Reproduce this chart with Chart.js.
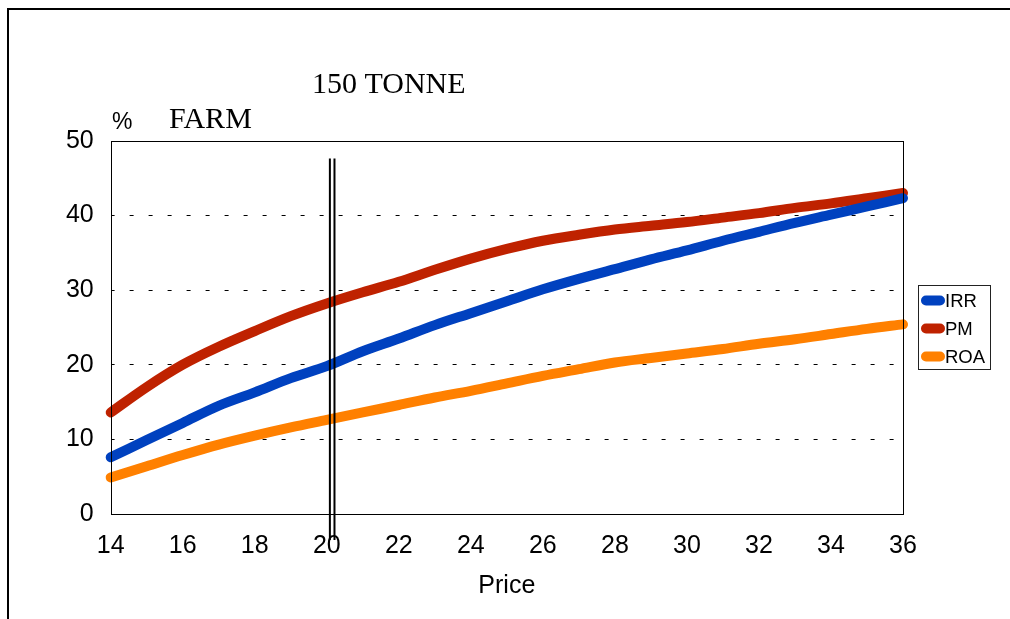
<!DOCTYPE html>
<html>
<head>
<meta charset="utf-8">
<script src="https://cdn.jsdelivr.net/npm/chart.js@4/dist/chart.umd.min.js"></script>
<style>
  html, body { margin: 0; padding: 0; background: #fff; }
  #wrap { width: 1010px; height: 619px; position: relative; }
</style>
</head>
<body>
<div id="wrap"><canvas id="c" width="1010" height="619"></canvas></div>
<script>
// Price (x) and the three return measures (%)
const prices = [14, 15, 16, 17, 18, 19, 20, 21, 22, 23, 24, 25, 26, 27, 28, 29, 30, 31, 32, 33, 34, 35, 36];
const irr = [7.6, 9.9, 12.2, 14.5, 16.3, 18.2, 19.8, 21.8, 23.5, 25.3, 26.9, 28.5, 30.1, 31.5, 32.8, 34.1, 35.3, 36.6, 37.8, 39.0, 40.1, 41.2, 42.3];
const pm  = [13.6, 17.0, 20.0, 22.4, 24.5, 26.5, 28.2, 29.7, 31.1, 32.7, 34.2, 35.5, 36.6, 37.4, 38.1, 38.6, 39.1, 39.7, 40.3, 41.0, 41.6, 42.3, 43.0];
const roa = [4.9, 6.4, 7.9, 9.3, 10.5, 11.6, 12.6, 13.6, 14.6, 15.6, 16.5, 17.5, 18.5, 19.4, 20.3, 20.9, 21.5, 22.1, 22.8, 23.4, 24.1, 24.8, 25.4];
const seriesNames = ['IRR', 'PM', 'ROA'];
const seriesColors = ['#0041BF', '#BF2200', '#FF8000'];

// Current price marker (double vertical rule)
const markerPrice = 20.15;
const markerTopValue = 47.6;

const titleLine1 = '150 TONNE';
const titleLine2 = 'FARM';
const yUnit = '%';

const SANS = '"Liberation Sans", Arial, sans-serif';
const SERIF = '"Liberation Serif", "Times New Roman", serif';

function toPoints(ys) { return prices.map((x, i) => ({ x: x, y: ys[i] })); }

const decor = {
  id: 'decor',
  beforeDraw(chart) {
    const ctx = chart.ctx;
    ctx.save();
    ctx.fillStyle = '#fff';
    ctx.fillRect(0, 0, chart.width, chart.height);
    ctx.restore();
  },
  afterDatasetsDraw(chart) {
    const ctx = chart.ctx;
    const a = chart.chartArea;
    const xs = chart.scales.x, ys = chart.scales.y;
    ctx.save();
    // plot frame
    ctx.strokeStyle = '#000';
    ctx.lineWidth = 1;
    ctx.strokeRect(Math.round(a.left) + 0.5, Math.round(a.top) + 0.5, Math.round(a.right - a.left), Math.round(a.bottom - a.top));
    // double rule at the current price
    const mx = xs.getPixelForValue(markerPrice);
    const top = ys.getPixelForValue(markerTopValue);
    ctx.lineWidth = 2;
    [-2.3, 2.3].forEach(d => {
      ctx.beginPath();
      ctx.moveTo(mx + d, top);
      ctx.lineTo(mx + d, a.bottom + 26);
      ctx.stroke();
    });
    ctx.restore();
  },
  afterDraw(chart) {
    const ctx = chart.ctx;
    ctx.save();
    // outer frame
    ctx.strokeStyle = '#000';
    ctx.lineWidth = 2;
    ctx.strokeRect(8, 9, chart.width + 20, chart.height + 20);
    // titles
    ctx.fillStyle = '#000';
    ctx.textBaseline = 'alphabetic';
    ctx.textAlign = 'left';
    ctx.font = '30px ' + SERIF;
    ctx.fillText(titleLine1, 312, 93);
    ctx.fillText(titleLine2, 169, 128);
    ctx.font = '23px ' + SANS;
    ctx.fillText(yUnit, 112, 129);
    // legend
    const lx = 918.5, ly = 285.5, lw = 72, lh = 84;
    ctx.lineWidth = 1;
    ctx.strokeStyle = '#222';
    ctx.strokeRect(lx, ly, lw, lh);
    ctx.font = '18.5px ' + SANS;
    ctx.textBaseline = 'middle';
    const rowY = [300.5, 328.5, 356.5];
    chart.data.datasets.forEach((ds, i) => {
      ctx.strokeStyle = ds.borderColor;
      ctx.lineWidth = 10;
      ctx.lineCap = 'round';
      ctx.beginPath();
      ctx.moveTo(926, rowY[i]);
      ctx.lineTo(940, rowY[i]);
      ctx.stroke();
      ctx.fillStyle = '#000';
      ctx.fillText(ds.label, 945, rowY[i] + 1);
    });
    ctx.restore();
  }
};

const datasets = [irr, pm, roa].map((vals, i) => ({
  label: seriesNames[i],
  data: toPoints(vals),
  borderColor: seriesColors[i],
  backgroundColor: seriesColors[i],
  borderWidth: 10,
  borderCapStyle: 'round',
  borderJoinStyle: 'round',
  pointRadius: 0,
  pointHoverRadius: 0,
  cubicInterpolationMode: 'monotone',
  clip: false
}));

new Chart(document.getElementById('c'), {
  type: 'line',
  data: { datasets: datasets },
  options: {
    responsive: false,
    animation: false,
    events: [],
    layout: { padding: { left: 0, top: 140.7, right: 107, bottom: 0 } },
    plugins: { legend: { display: false }, tooltip: { enabled: false }, title: { display: false } },
    scales: {
      x: {
        type: 'linear',
        min: 14, max: 36,
        afterFit(s) { s.height = 105; },
        ticks: { stepSize: 2, padding: 17, color: '#000', font: { family: SANS, size: 25 } },
        grid: { display: false, drawTicks: false },
        border: { display: false },
        title: { display: true, text: 'Price', color: '#000', font: { family: SANS, size: 25 }, padding: { top: 0, bottom: 18 } }
      },
      y: {
        min: 0, max: 50,
        afterFit(s) { s.width = 110.7; },
        ticks: { stepSize: 10, padding: 17, color: '#000', font: { family: SANS, size: 25 } },
        grid: {
          drawTicks: false,
          lineWidth: 1,
          color: (c) => (c.tick && (c.tick.value === 0 || c.tick.value === 50)) ? 'rgba(0,0,0,0)' : '#000'
        },
        border: { display: false, dash: [4, 15], dashOffset: 0.4 }
      }
    }
  },
  plugins: [decor]
});
</script>
</body>
</html>
